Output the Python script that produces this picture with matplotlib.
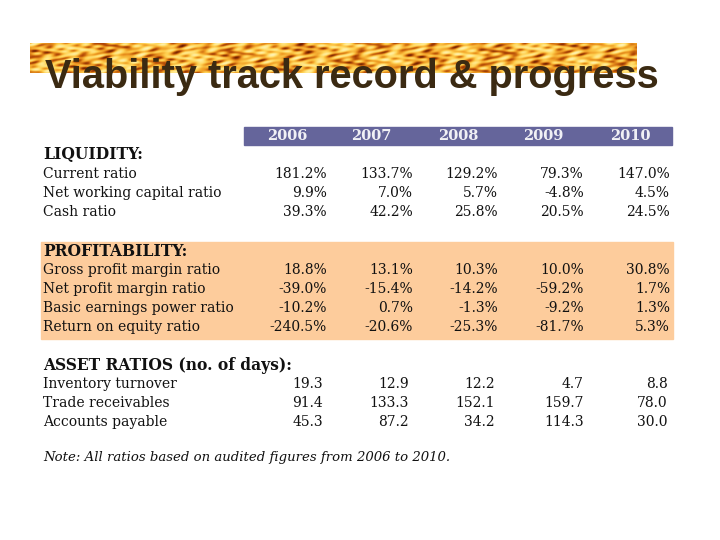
import matplotlib
matplotlib.use("Agg")
import matplotlib.pyplot as plt
from matplotlib.colors import LinearSegmentedColormap
import numpy as np

years = ["2006", "2007", "2008", "2009", "2010"]

liquidity_labels = ["Current ratio", "Net working capital ratio", "Cash ratio"]
liquidity_values = [
    [181.2, 133.7, 129.2, 79.3, 147.0],
    [9.9, 7.0, 5.7, -4.8, 4.5],
    [39.3, 42.2, 25.8, 20.5, 24.5],
]

profit_labels = ["Gross profit margin ratio", "Net profit margin ratio",
                 "Basic earnings power ratio", "Return on equity ratio"]
profit_values = [
    [18.8, 13.1, 10.3, 10.0, 30.8],
    [-39.0, -15.4, -14.2, -59.2, 1.7],
    [-10.2, 0.7, -1.3, -9.2, 1.3],
    [-240.5, -20.6, -25.3, -81.7, 5.3],
]

asset_labels = ["Inventory turnover", "Trade receivables", "Accounts payable"]
asset_values = [
    [19.3, 12.9, 12.2, 4.7, 8.8],
    [91.4, 133.3, 152.1, 159.7, 78.0],
    [45.3, 87.2, 34.2, 114.3, 30.0],
]

title = "Viability track record & progress"
note = "Note: All ratios based on audited figures from 2006 to 2010."

fig = plt.figure(figsize=(7.2, 5.4), dpi=100)
ax = fig.add_axes([0, 0, 1, 1])
ax.set_xlim(0, 720)
ax.set_ylim(540, 0)
ax.axis("off")

# flame banner behind the title (decorative texture)
gx, gy = np.meshgrid(np.linspace(0, 80, 400), np.linspace(0, 6, 40))
tex = np.sin(gx * 1.3 + 2.5 * np.sin(gy * 1.7 + gx * 0.21)) * np.cos(gy * 2.3 - gx * 0.37)
tex += 0.6 * np.sin(gx * 3.1 + gy * 4.0) * np.cos(gx * 0.53 - gy * 1.9)
flame = LinearSegmentedColormap.from_list(
    "flame", ["#5a1400", "#b44a06", "#ee9a22", "#ffd050", "#ffe88a", "#fff3b8"])
ax.imshow(tex, cmap=flame, extent=(30, 637, 73, 43), aspect="auto",
          interpolation="bilinear", zorder=1)

ax.text(45, 88, title, fontsize=28.6, fontweight="bold", color="#3b2a12",
        family=["Liberation Sans Narrow", "Liberation Sans"],
        ha="left", va="baseline", zorder=3)

serif = "DejaVu Serif"
fs = 10
fs_head = 11.2
txt = "#111111"
label_x = 43
pct_right = [327, 413, 498, 584, 670]
day_right = [323, 409, 495, 584, 668]
year_center = [287, 371, 458, 543, 630]

# header band
ax.add_patch(plt.Rectangle((244, 127), 428, 18, color="#65659b", zorder=1))
for xc, yr in zip(year_center, years):
    ax.text(xc, 136.5, yr, fontsize=10.5, fontweight="bold", color="#f0f0f5",
            family=serif, ha="center", va="center", zorder=3)

# profitability band
ax.add_patch(plt.Rectangle((41, 242), 632, 97, color="#fdcc9c", zorder=1))


def section(heading, y0, labels, values, rights, pct):
    ax.text(label_x, y0, heading, fontsize=fs_head, fontweight="bold", color=txt,
            family=serif, ha="left", va="center", zorder=3)
    for i, (lab, row) in enumerate(zip(labels, values)):
        y = y0 + 19 * (i + 1)
        ax.text(label_x, y, lab, fontsize=fs, color=txt, family=serif,
                ha="left", va="center", zorder=3)
        for xr, v in zip(rights, row):
            s = f"{v:.1f}%" if pct else f"{v:.1f}"
            ax.text(xr, y, s, fontsize=fs, color=txt, family=serif,
                    ha="right", va="center", zorder=3)


section("LIQUIDITY:", 155, liquidity_labels, liquidity_values, pct_right, True)
section("PROFITABILITY:", 251, profit_labels, profit_values, pct_right, True)
section("ASSET RATIOS (no. of days):", 365, asset_labels, asset_values, day_right, False)

ax.text(label_x, 457, note, fontsize=9.5, style="italic", color=txt,
        family=serif, ha="left", va="center", zorder=3)

fig.savefig("out.png", dpi=100)
